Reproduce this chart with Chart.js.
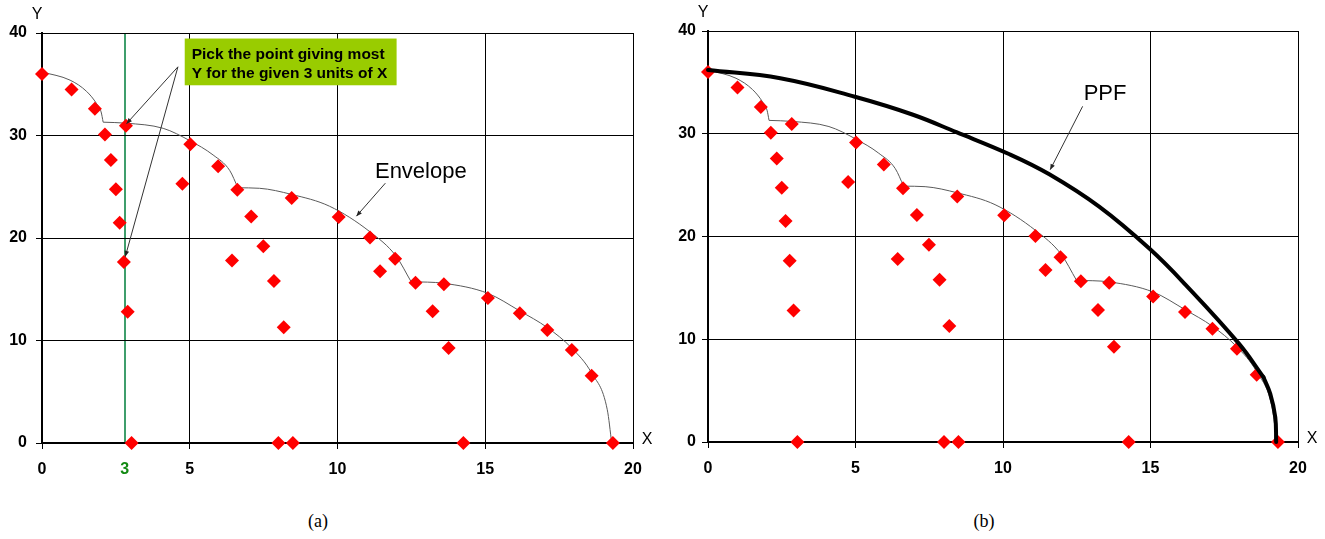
<!DOCTYPE html>
<html><head><meta charset="utf-8">
<script src="https://cdn.jsdelivr.net/npm/chart.js@4/dist/chart.umd.min.js"></script>
<style>
html,body{margin:0;padding:0;background:#fff;width:1325px;height:539px;overflow:hidden;}
.wrap{position:absolute;top:0;}
.cap{position:absolute;top:511px;line-height:22px;font:18px "Liberation Serif",serif;color:#000;transform:translateX(-50%);}
</style></head><body>
<div class="wrap" style="left:0;width:662px;height:490px"><canvas id="c1" width="662" height="490"></canvas></div>
<div class="wrap" style="left:666px;width:659px;height:490px"><canvas id="c2" width="659" height="490"></canvas></div>
<div class="cap" style="left:318px">(a)</div>
<div class="cap" style="left:984px">(b)</div>
<script>
// ---- data ----
const pointX = [0, 1.0, 1.79, 2.13, 2.33, 2.5, 2.63, 2.77, 2.9, 3.03, 2.84,
  5.02, 5.96, 6.61, 4.75, 7.08, 7.49, 6.43, 7.85, 8.18, 8.0, 8.49, 8.45,
  10.04, 11.1, 11.44, 11.95, 12.64, 13.6, 13.22, 13.76, 14.26,
  15.09, 16.17, 17.1, 17.93, 18.6, 19.32];
const pointY = [36.0, 34.5, 32.6, 30.1, 27.6, 24.75, 21.5, 17.65, 12.8, 0, 30.95,
  29.15, 27.0, 24.7, 25.3, 22.1, 19.2, 17.8, 15.8, 11.3, 0, 0, 23.9,
  22.06, 20.06, 16.75, 17.97, 15.64, 15.5, 12.85, 9.28, 0,
  14.15, 12.66, 11.03, 9.08, 6.55, 0];

const arc1X = [0, 0.95, 1.51, 1.85, 2.0, 2.07];
const arc1Y = [36.2, 35.4, 34.3, 33.1, 32.3, 31.3];
const arc2X = [2.07, 2.86, 4.1, 5.0, 5.79, 6.35, 6.63];
const arc2Y = [31.3, 31.2, 30.7, 29.5, 28.1, 26.6, 24.9];
const arc3X = [6.63, 7.36, 8.45, 9.73, 11.1, 11.98, 12.49];
const arc3Y = [24.9, 24.85, 24.25, 23.1, 20.6, 18.24, 15.74];
const arc4X = [12.49, 13.6, 15.09, 16.17, 17.1, 17.93, 18.6, 19.13, 19.28];
const arc4Y = [15.74, 15.58, 14.6, 12.88, 11.26, 9.25, 6.82, 3.24, 0];

const ppfX = [0, 2.45, 4.98, 6.95, 8.42, 10.22, 11.57, 13.26, 14.97, 16.19, 17.99, 18.83];
const ppfY = [36.2, 35.4, 33.6, 31.85, 30.15, 28.0, 26.05, 22.9, 18.8, 15.3, 9.6, 6.3];
const ppfEndX = [18.83, 19.06, 19.23, 19.26];
const ppfEndY = [6.3, 4.69, 2.42, 0];

const xTicksLeft = [0, 2.8, 5, 10, 15, 20];
const xTickLabelsLeft = ['0', '3', '5', '10', '15', '20'];
const xTicksRight = [0, 5, 10, 15, 20];
const xTickLabelsRight = ['0', '5', '10', '15', '20'];
const yTicks = [0, 10, 20, 30, 40];
const yTickLabels = ['0', '10', '20', '30', '40'];
const GIVEN_X = 2.8;

const boxLines = ['Pick the point giving most', 'Y for the given 3 units of X'];

// ---- helpers ----
const pts = (xs, ys) => xs.map((x, i) => ({x, y: ys[i]}));
const RED = '#ff0000';
const GREEN_LINE = '#3f9e6c';
const GREEN_TXT = '#138a13';

function arcSet(xs, ys) {
  return {data: pts(xs, ys), showLine: true, pointRadius: 0, borderColor: '#5a5a5a',
    borderWidth: 1, cubicInterpolationMode: 'monotone', order: 2, clip: false};
}
function pointSet() {
  return {data: pts(pointX, pointY), pointStyle: 'rectRot', pointRadius: 7,
    backgroundColor: RED, borderColor: RED, borderWidth: 0, showLine: false, order: 1, clip: false};
}
function arrow(ctx, x1, y1, x2, y2, head) {
  ctx.beginPath(); ctx.moveTo(x1, y1); ctx.lineTo(x2, y2); ctx.stroke();
  const a = Math.atan2(y2 - y1, x2 - x1);
  ctx.beginPath();
  ctx.moveTo(x2, y2);
  ctx.lineTo(x2 - head * Math.cos(a - 0.4), y2 - head * Math.sin(a - 0.4));
  ctx.lineTo(x2 - head * Math.cos(a + 0.4), y2 - head * Math.sin(a + 0.4));
  ctx.closePath(); ctx.fill();
}

function makeOptions(xTicks, xLabels, padTop, padRight, xAxisH, xLabelPad, yLabelPad, greenVal) {
  return {
    responsive: false, animation: false, events: [],
    layout: {padding: {top: padTop, right: padRight, left: 0, bottom: 0}},
    plugins: {legend: {display: false}, tooltip: {enabled: false}},
    scales: {
      x: {
        type: 'linear', min: 0, max: 20,
        afterBuildTicks: (ax) => { ax.ticks = xTicks.map(v => ({value: v})); },
        afterFit: (s) => { s.height = xAxisH; },
        ticks: {
          autoSkip: false, maxRotation: 0, padding: xLabelPad,
          font: {family: '"Liberation Sans", Arial, sans-serif', size: 16, weight: 'bold'},
          color: (c) => (c.tick && c.tick.value === greenVal) ? GREEN_TXT : '#000',
          callback: (v, i) => xLabels[i]
        },
        grid: {
          color: (c) => (c.tick && c.tick.value === greenVal) ? GREEN_LINE : '#000',
          lineWidth: (c) => (c.tick && c.tick.value === greenVal) ? 2 : 1,
          tickColor: (c) => (c.tick && c.tick.value === greenVal) ? 'rgba(0,0,0,0)' : '#000',
          tickLength: 6, tickWidth: 1
        },
        border: {display: true, color: '#000', width: 2}
      },
      y: {
        type: 'linear', min: 0, max: 40,
        afterBuildTicks: (ax) => { ax.ticks = yTicks.map(v => ({value: v})); },
        afterFit: (s) => { s.width = 42; },
        ticks: {
          autoSkip: false, padding: yLabelPad,
          font: {family: '"Liberation Sans", Arial, sans-serif', size: 16, weight: 'bold'},
          color: '#000',
          callback: (v, i) => yTickLabels[i]
        },
        grid: {color: '#000', lineWidth: 1, tickLength: 6, tickColor: '#000'},
        border: {display: true, color: '#000', width: 2}
      }
    }
  };
}

function axisTitles(chart) {
  const ctx = chart.ctx, a = chart.chartArea;
  ctx.save();
  ctx.fillStyle = '#000';
  ctx.font = '16px "Liberation Sans", Arial, sans-serif';
  ctx.textAlign = 'center'; ctx.textBaseline = 'middle';
  ctx.fillText('Y', a.left - 5, a.top - 18);
  ctx.fillText('X', a.right + 14, a.bottom - 3);
  ctx.restore();
}

// ---- left chart ----
const leftPlugin = {
  id: 'leftOverlay',
  afterDraw(chart) {
    const ctx = chart.ctx, xs = chart.scales.x, ys = chart.scales.y;
    const X = v => xs.getPixelForValue(v), Y = v => ys.getPixelForValue(v);
    axisTitles(chart);
    ctx.save();
    ctx.strokeStyle = '#333'; ctx.fillStyle = '#222'; ctx.lineWidth = 1;
    arrow(ctx, X(4.6), Y(36.7), X(2.86), Y(31.15), 6);
    arrow(ctx, X(4.6), Y(36.7), X(2.82), Y(18.2), 6);
    const bx1 = X(4.83), bx2 = X(12.0), by1 = Y(39.46), by2 = Y(34.9);
    ctx.fillStyle = '#99cc00';
    ctx.fillRect(bx1, by1, bx2 - bx1, by2 - by1);
    ctx.fillStyle = '#000';
    ctx.font = 'bold 15.5px "Liberation Sans", Arial, sans-serif';
    ctx.textAlign = 'left'; ctx.textBaseline = 'alphabetic';
    ctx.fillText(boxLines[0], bx1 + 7, by1 + 20.5);
    ctx.fillText(boxLines[1], bx1 + 7, by1 + 39);
    ctx.font = '22px "Liberation Sans", Arial, sans-serif';
    ctx.textAlign = 'center'; ctx.textBaseline = 'middle';
    ctx.fillText('Envelope', X(12.82), Y(26.42));
    ctx.strokeStyle = '#333'; ctx.fillStyle = '#222';
    arrow(ctx, X(11.62), Y(25.35), X(10.64), Y(22.13), 6);
    ctx.restore();
  }
};

new Chart(document.getElementById('c1'), {
  type: 'scatter',
  data: {datasets: [pointSet(), arcSet(arc1X, arc1Y), arcSet(arc2X, arc2Y), arcSet(arc3X, arc3Y), arcSet(arc4X, arc4Y)]},
  options: makeOptions(xTicksLeft, xTickLabelsLeft, 33, 29, 47, 11, 9, GIVEN_X),
  plugins: [leftPlugin]
});

// ---- right chart ----
const rightPlugin = {
  id: 'rightOverlay',
  afterDraw(chart) {
    const ctx = chart.ctx, xs = chart.scales.x, ys = chart.scales.y;
    const X = v => xs.getPixelForValue(v), Y = v => ys.getPixelForValue(v);
    axisTitles(chart);
    ctx.save();
    ctx.fillStyle = '#000';
    ctx.font = '22px "Liberation Sans", Arial, sans-serif';
    ctx.textAlign = 'center'; ctx.textBaseline = 'middle';
    ctx.fillText('PPF', X(13.46), Y(33.9));
    ctx.strokeStyle = '#333'; ctx.fillStyle = '#222'; ctx.lineWidth = 1;
    arrow(ctx, X(12.70), Y(32.67), X(11.6), Y(26.5), 6);
    ctx.restore();
  }
};

function ppfSet(xs, ys) {
  return {data: pts(xs, ys), showLine: true, pointRadius: 0, borderColor: '#000',
    borderWidth: 4, tension: 0.4, order: 0, clip: false,
    borderCapStyle: 'round', borderJoinStyle: 'round'};
}

new Chart(document.getElementById('c2'), {
  type: 'scatter',
  data: {datasets: [ppfSet(ppfX, ppfY), ppfSet(ppfEndX, ppfEndY), pointSet(),
    arcSet(arc1X, arc1Y), arcSet(arc2X, arc2Y), arcSet(arc3X, arc3Y), arcSet(arc4X, arc4Y)]},
  options: makeOptions(xTicksRight, xTickLabelsRight, 31, 27, 48, 11, 6, null),
  plugins: [rightPlugin]
});
</script>
</body></html>
